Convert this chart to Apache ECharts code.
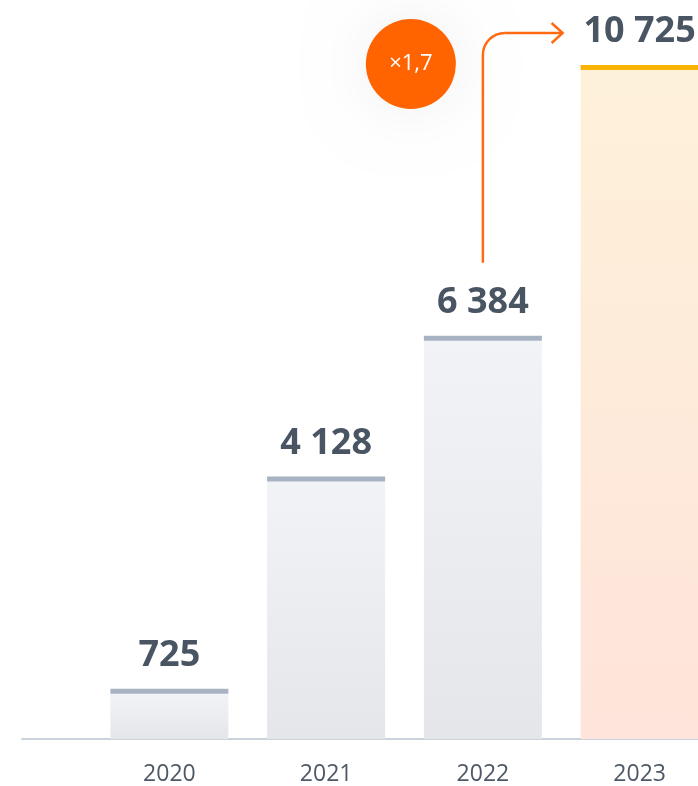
<!DOCTYPE html>
<html>
<head>
<meta charset="utf-8">
<script src="https://cdn.jsdelivr.net/npm/echarts@6/dist/echarts.min.js"></script>
<style>
  html, body { margin: 0; padding: 0; background: #fff; }
  #chart { width: 698px; height: 786px; }
</style>
</head>
<body>
<div id="chart"></div>
<script>
// data
var years = ['2020', '2021', '2022', '2023'];
var values = [725, 4128, 6384, 10725];
var growthText = '×1,7';

var labelColor = '#4a5563';

function fmt(v) {
    return String(v).replace(/\B(?=(\d{3})+(?!\d))/g, ' ');
}

var chart = echarts.init(document.getElementById('chart'));

var option = {
    animation: false,
    grid: [
        { left: 91, right: -20, top: 70, bottom: 47, outerBoundsMode: 'none', containLabel: false },
        // only carries the long baseline
        { left: 22, right: 0, bottom: 47, height: 0, outerBoundsMode: 'none' }
    ],
    xAxis: [
        {
            type: 'category',
            data: years,
            gridIndex: 0,
            axisLine: { show: false },
            axisTick: { show: false },
            axisLabel: {
                margin: 24,
                fontSize: 23,
                color: '#4e5866',
                fontFamily: 'Open Sans'
            }
        },
        {
            type: 'value',
            gridIndex: 1,
            min: 0,
            max: 1,
            axisLine: { show: true, lineStyle: { color: '#b9c3cf', width: 1.5 } },
            axisTick: { show: false },
            axisLabel: { show: false },
            splitLine: { show: false }
        }
    ],
    yAxis: [
        { type: 'value', gridIndex: 0, min: 0, max: 10725, show: false },
        { type: 'value', gridIndex: 1, show: false }
    ],
    series: [
        {
            type: 'bar',
            barWidth: 118,
            data: values,
            itemStyle: {
                color: function (p) {
                    if (p.dataIndex === values.length - 1) {
                        return new echarts.graphic.LinearGradient(0, 0, 0, 1, [
                            { offset: 0, color: '#fef1d9' },
                            { offset: 1, color: '#fee4da' }
                        ]);
                    }
                    return new echarts.graphic.LinearGradient(0, 0, 0, 1, [
                        { offset: 0, color: '#f1f3f7' },
                        { offset: 1, color: '#e4e6ea' }
                    ]);
                }
            },
            label: {
                show: true,
                position: 'top',
                distance: 20,
                formatter: function (p) { return fmt(p.value); },
                fontSize: 36,
                fontWeight: 700,
                fontFamily: 'Open Sans',
                color: labelColor
            }
        },
        {
            // thin cap line on top of each bar
            type: 'scatter',
            symbol: 'rect',
            symbolSize: [118, 5],
            symbolOffset: [0, -2.5],
            z: 5,
            data: values,
            itemStyle: {
                opacity: 1,
                color: function (p) {
                    return p.dataIndex === values.length - 1 ? '#f8b400' : '#a7b3c3';
                }
            }
        }
    ]
};
chart.setOption(option);

// growth arrow from 2022 towards 2023
var p22 = chart.convertToPixel({ seriesIndex: 0 }, [2, values[2]]);
var p23 = chart.convertToPixel({ seriesIndex: 0 }, [3, values[3]]);
var ax = p22[0];
var yBottom = p22[1] - 78;
var yTop = p23[1] - 37;
var xEnd = p23[0] - 77;
var r = 22;
var arrowStyle = { fill: null, stroke: '#ff6a13', lineWidth: 2.5 };

chart.setOption({
    graphic: [
        {
            type: 'circle',
            shape: { cx: ax - 72, cy: yTop + 31, r: 45 },
            style: {
                fill: '#ff6400',
                shadowBlur: 60,
                shadowColor: 'rgba(0,0,0,0.06)'
            },
            z: 10
        },
        {
            type: 'text',
            x: ax - 72,
            y: yTop + 31,
            style: {
                text: growthText,
                fill: '#fff',
                fontSize: 22,
                fontFamily: 'Open Sans',
                align: 'center',
                verticalAlign: 'middle'
            },
            z: 11
        },
        {
            type: 'line',
            shape: { x1: ax, y1: yBottom, x2: ax, y2: yTop + r },
            style: arrowStyle,
            z: 10
        },
        {
            type: 'arc',
            shape: { cx: ax + r, cy: yTop + r, r: r, startAngle: Math.PI, endAngle: Math.PI * 1.5, clockwise: true },
            style: arrowStyle,
            z: 10
        },
        {
            type: 'line',
            shape: { x1: ax + r, y1: yTop, x2: xEnd, y2: yTop },
            style: arrowStyle,
            z: 10
        },
        {
            type: 'polyline',
            shape: { points: [[xEnd - 11, yTop - 10], [xEnd, yTop], [xEnd - 11, yTop + 10]] },
            style: arrowStyle,
            z: 10
        }
    ]
});
</script>
</body>
</html>
